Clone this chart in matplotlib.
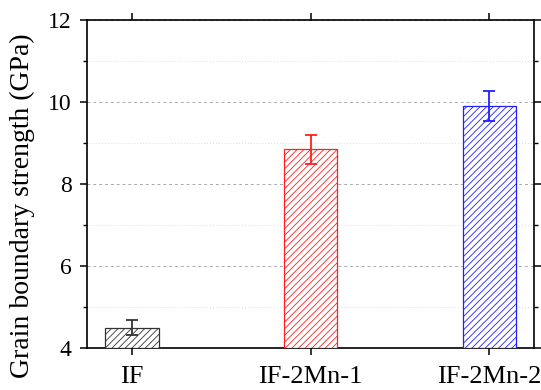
import matplotlib
matplotlib.use("Agg")
import matplotlib.pyplot as plt
from matplotlib.ticker import MultipleLocator

categories = ["IF", "IF-2Mn-1", "IF-2Mn-2"]
strength = [4.50, 8.85, 9.90]
errors = [0.18, 0.35, 0.37]
colors = ["#333333", "#ff2020", "#2020ff"]

plt.rcParams["font.family"] = ["Liberation Serif", "DejaVu Serif"]
plt.rcParams["hatch.linewidth"] = 0.6

fig = plt.figure(figsize=(5.41, 3.90), dpi=100)
ax = fig.add_axes([87 / 541, 1 - 348 / 390, (534 - 87) / 541, (348 - 20) / 390])

x = list(range(len(categories)))
for xi, v, e, c in zip(x, strength, errors, colors):
    ax.bar(xi, v - 4, bottom=4, width=0.30, facecolor="white", edgecolor=c,
           hatch="/////", linewidth=0.9, zorder=3)
    ax.errorbar(xi, v, yerr=e, color=c, capsize=4, elinewidth=1.3,
                capthick=1.3, zorder=4)

ax.set_xlim(-0.252, 2.25)
ax.set_ylim(4, 12)
ax.set_xticks(x)
ax.set_xticklabels(categories)
ax.yaxis.set_major_locator(MultipleLocator(2))
ax.yaxis.set_minor_locator(MultipleLocator(1))

ax.grid(axis="y", which="major", color="#aaaaaa", linestyle=(0, (3, 3)), linewidth=0.7, zorder=0)
ax.grid(axis="y", which="minor", color="#dddddd", linestyle=(0, (1, 2)), linewidth=0.7, zorder=0)

ax.tick_params(axis="both", which="major", direction="out", length=5, width=1.1,
               top=True, right=True)
ax.tick_params(axis="x", which="major", pad=8, labelsize=19)
ax.tick_params(axis="y", which="major", pad=6, labelsize=17)
ax.tick_params(axis="y", which="minor", direction="out", length=3, width=1.0,
               right=True)
for s in ax.spines.values():
    s.set_linewidth(1.2)

ax.set_ylabel("Grain boundary strength (GPa)", fontsize=20)
ax.yaxis.set_label_coords(-0.116, 0.433)

fig.savefig("out.png", dpi=100)
